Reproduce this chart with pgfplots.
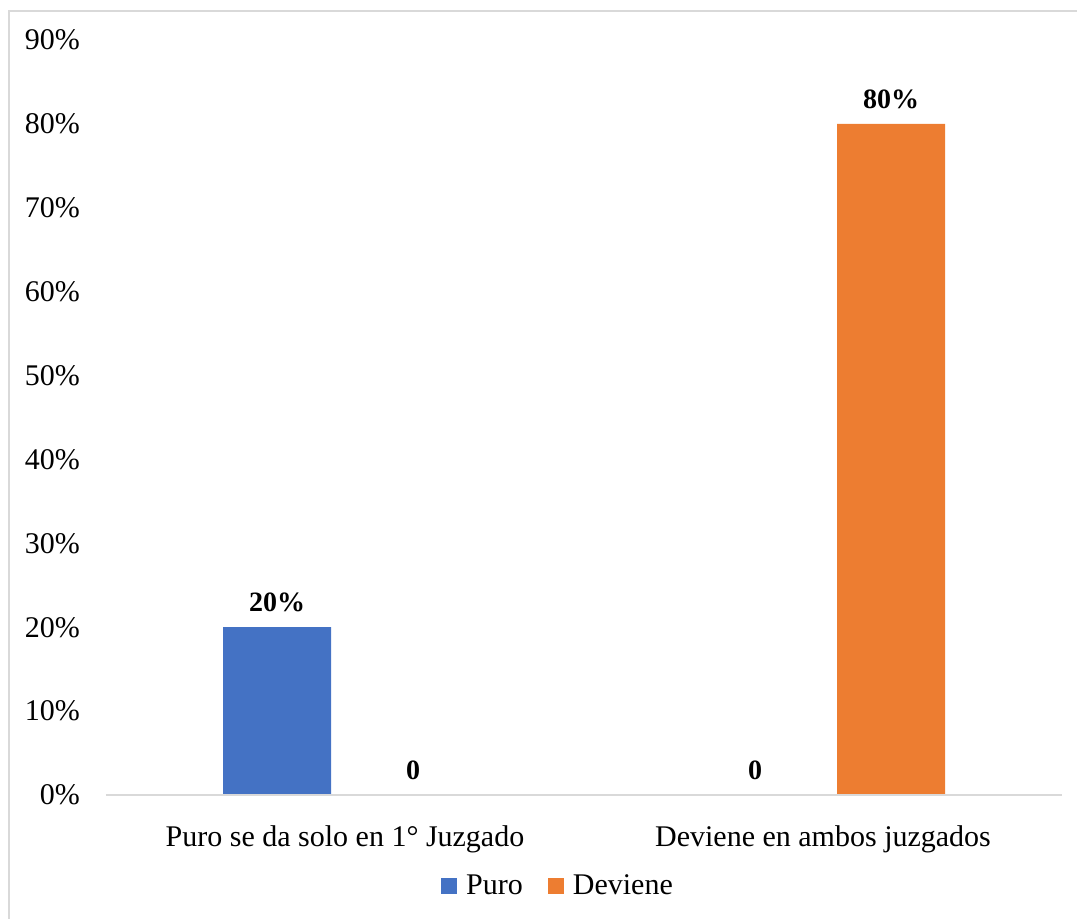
\documentclass[border=0pt]{standalone}
\usepackage{fontspec}
\setmainfont{Liberation Serif}
\usepackage{pgfplots}
\pgfplotsset{compat=1.18}
\definecolor{cblue}{HTML}{4472C4}
\definecolor{corange}{HTML}{ED7D31}
\definecolor{cgray}{HTML}{D9D9D9}
\begin{document}
\begin{tikzpicture}
\useasboundingbox (0,0) rectangle (538.5pt,459pt);
\draw[cgray,line width=0.8pt] (4.5pt,-2pt) -- (4.5pt,453.5pt) -- (541pt,453.5pt);
\begin{axis}[
  at={(53pt,61.5pt)}, anchor=south west,
  width=478pt, height=377.5pt, scale only axis,
  xmin=-0.5, xmax=1.5, ymin=0, ymax=90,
  axis on top,
  axis lines*=left,
  axis line style={-},
  y axis line style={draw=none},
  x axis line style={cgray, line width=0.9pt},
  major tick length=0pt,
  ytick={0,10,...,90},
  yticklabel={\pgfmathprintnumber{\tick}\%},
  /pgf/number format/assume math mode=true,
  yticklabel style={font=\fontsize{15}{18}\selectfont, xshift=-9.5pt},
  xtick={0,1},
  xticklabels={Puro se da solo en 1° Juzgado, Deviene en ambos juzgados},
  xticklabel style={font=\fontsize{15}{18}\selectfont, yshift=-12pt},
  ybar=14pt, bar width=54pt,
  nodes near coords,
  point meta=explicit symbolic,
  every node near coord/.append style={font=\bfseries\fontsize{14}{17}\selectfont, yshift=4pt, text=black},
  clip=false,
  legend columns=2,
  legend image code/.code={\fill[#1] (0pt,-4pt) rectangle (8pt,4pt); \path (0pt,0pt) (10.5pt,0pt);},
  legend style={at={(0.4739,-0.1205)}, anchor=center, draw=none,
    font=\fontsize{15}{18}\selectfont,
    /tikz/every even column/.append style={column sep=10.5pt}},
]
\addplot[fill=cblue, draw=none] coordinates {(0,20) [20\%] (1,0) [0]};
\addplot[fill=corange, draw=none] coordinates {(0,0) [0] (1,80) [80\%]};
\legend{Puro, Deviene}
\end{axis}
\end{tikzpicture}
\end{document}
